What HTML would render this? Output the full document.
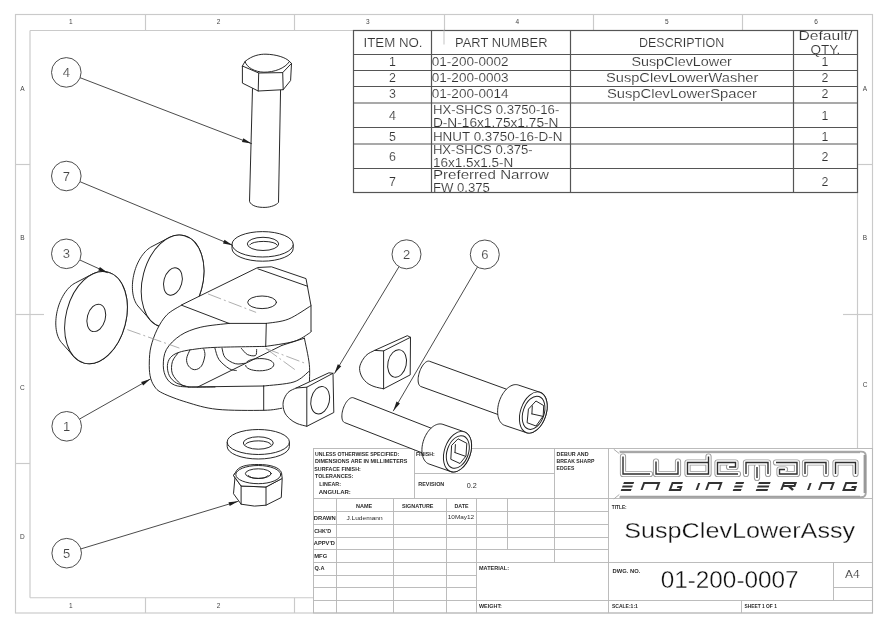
<!DOCTYPE html>
<html><head><meta charset="utf-8"><style>
html,body{margin:0;padding:0;background:#fff;}
svg{display:block;will-change:transform;}
text{font-family:"Liberation Sans",sans-serif;}
.k{fill:none;stroke:#1e1e1e;stroke-width:0.95;stroke-linejoin:round;stroke-linecap:round;}
.kl{fill:none;stroke:#2a2a2a;stroke-width:0.85;stroke-linecap:round;}
.kb{fill:#fff;stroke:#3a3a3a;stroke-width:0.9;}
.fk{fill:#1e1e1e;stroke:none;}
.fr{fill:none;stroke:#cacaca;stroke-width:1.15;}
.tb{stroke:#555;stroke-width:1.2;}
.tt{fill:none;stroke:#b8b8b8;stroke-width:0.95;}
.w{fill:#fff;stroke:none;}
.kw{fill:#fff;stroke:#1e1e1e;stroke-width:0.95;stroke-linejoin:round;}
.thin{stroke:#fff;stroke-width:0.15;}
.cl{fill:none;stroke:#9a9a9a;stroke-width:0.8;stroke-dasharray:14 3 2 3;}
</style></head><body>
<svg width="888" height="628" viewBox="0 0 888 628">
<rect class="fr" x="15.5" y="14.5" width="857" height="598.5"/>
<line class="fr" x1="30" y1="30.5" x2="857.5" y2="30.5"/>
<line class="fr" x1="30" y1="30.5" x2="30" y2="597.7"/>
<line class="fr" x1="30" y1="597.7" x2="313.5" y2="597.7"/>
<line class="fr" x1="857.5" y1="30.5" x2="857.5" y2="448.5"/>
<line class="fr" x1="145.5" y1="14.5" x2="145.5" y2="30.5"/>
<line class="fr" x1="294.5" y1="14.5" x2="294.5" y2="30.5"/>
<line class="fr" x1="444.5" y1="14.5" x2="444.5" y2="30.5"/>
<line class="fr" x1="593.5" y1="14.5" x2="593.5" y2="30.5"/>
<line class="fr" x1="742.5" y1="14.5" x2="742.5" y2="30.5"/>
<line class="fr" x1="145.5" y1="597.7" x2="145.5" y2="613"/>
<line class="fr" x1="294.5" y1="597.7" x2="294.5" y2="613"/>
<line class="fr" x1="15.5" y1="164.5" x2="30" y2="164.5"/>
<line class="fr" x1="15.5" y1="314.5" x2="30" y2="314.5"/>
<line class="fr" x1="15.5" y1="463.5" x2="30" y2="463.5"/>
<line class="fr" x1="30" y1="314.5" x2="44" y2="314.5"/>
<line class="fr" x1="857.5" y1="164.5" x2="872.5" y2="164.5"/>
<line class="fr" x1="857.5" y1="314.5" x2="872.5" y2="314.5"/>
<line class="fr" x1="843" y1="314.5" x2="857.5" y2="314.5"/>
<text x="70.7" y="23.9" font-size="6.5" fill="#444" text-anchor="middle">1</text>
<text x="218.5" y="23.9" font-size="6.5" fill="#444" text-anchor="middle">2</text>
<text x="367.7" y="23.9" font-size="6.5" fill="#444" text-anchor="middle">3</text>
<text x="517.3" y="23.9" font-size="6.5" fill="#444" text-anchor="middle">4</text>
<text x="666.8" y="23.9" font-size="6.5" fill="#444" text-anchor="middle">5</text>
<text x="816" y="23.9" font-size="6.5" fill="#444" text-anchor="middle">6</text>
<text x="70.7" y="607.7" font-size="6.5" fill="#444" text-anchor="middle">1</text>
<text x="218.5" y="607.7" font-size="6.5" fill="#444" text-anchor="middle">2</text>
<text x="22.3" y="90.9" font-size="6.5" fill="#444" text-anchor="middle">A</text>
<text x="22.3" y="240.4" font-size="6.5" fill="#444" text-anchor="middle">B</text>
<text x="22.3" y="389.9" font-size="6.5" fill="#444" text-anchor="middle">C</text>
<text x="22.3" y="538.9" font-size="6.5" fill="#444" text-anchor="middle">D</text>
<text x="865" y="90.9" font-size="6.5" fill="#444" text-anchor="middle">A</text>
<text x="865" y="240.4" font-size="6.5" fill="#444" text-anchor="middle">B</text>
<text x="865" y="387.4" font-size="6.5" fill="#444" text-anchor="middle">C</text>
<rect x="353.5" y="30.5" width="504" height="162.5" fill="#fff"/>
<text x="363.5" y="47" font-size="12.6" fill="#333" text-anchor="start" textLength="59" lengthAdjust="spacingAndGlyphs" class="thin">ITEM NO.</text>
<text x="455.1" y="47" font-size="12.6" fill="#333" text-anchor="start" textLength="92.4" lengthAdjust="spacingAndGlyphs" class="thin">PART NUMBER</text>
<text x="639" y="47" font-size="12.6" fill="#333" text-anchor="start" textLength="85.3" lengthAdjust="spacingAndGlyphs" class="thin">DESCRIPTION</text>
<text x="798.4" y="39.9" font-size="12" fill="#333" text-anchor="start" textLength="54.1" lengthAdjust="spacingAndGlyphs" class="thin">Default/</text>
<text x="810.6" y="53.8" font-size="12" fill="#333" text-anchor="start" textLength="29.8" lengthAdjust="spacingAndGlyphs" class="thin">QTY.</text>
<text x="392.5" y="66" font-size="12.4" fill="#333" text-anchor="middle" class="thin">1</text>
<text x="431.8" y="66" font-size="12.4" fill="#333" text-anchor="start" textLength="76.8" lengthAdjust="spacingAndGlyphs" class="thin">01-200-0002</text>
<text x="631.4" y="66" font-size="12.4" fill="#333" text-anchor="start" textLength="100.5" lengthAdjust="spacingAndGlyphs" class="thin">SuspClevLower</text>
<text x="825" y="66" font-size="12.4" fill="#333" text-anchor="middle" class="thin">1</text>
<text x="392.5" y="82.1" font-size="12.4" fill="#333" text-anchor="middle" class="thin">2</text>
<text x="431.8" y="82.1" font-size="12.4" fill="#333" text-anchor="start" textLength="76.8" lengthAdjust="spacingAndGlyphs" class="thin">01-200-0003</text>
<text x="606" y="82.1" font-size="12.4" fill="#333" text-anchor="start" textLength="152.4" lengthAdjust="spacingAndGlyphs" class="thin">SuspClevLowerWasher</text>
<text x="825" y="82.1" font-size="12.4" fill="#333" text-anchor="middle" class="thin">2</text>
<text x="392.5" y="98" font-size="12.4" fill="#333" text-anchor="middle" class="thin">3</text>
<text x="431.8" y="98" font-size="12.4" fill="#333" text-anchor="start" textLength="76.8" lengthAdjust="spacingAndGlyphs" class="thin">01-200-0014</text>
<text x="606.9" y="98" font-size="12.4" fill="#333" text-anchor="start" textLength="150" lengthAdjust="spacingAndGlyphs" class="thin">SuspClevLowerSpacer</text>
<text x="825" y="98" font-size="12.4" fill="#333" text-anchor="middle" class="thin">2</text>
<text x="392.5" y="120" font-size="12.4" fill="#333" text-anchor="middle" class="thin">4</text>
<text x="825" y="120" font-size="12.4" fill="#333" text-anchor="middle" class="thin">1</text>
<text x="432.9" y="113.5" font-size="12.4" fill="#333" text-anchor="start" textLength="126.4" lengthAdjust="spacingAndGlyphs" class="thin">HX-SHCS 0.3750-16-</text>
<text x="432.9" y="126.7" font-size="12.4" fill="#333" text-anchor="start" textLength="125.6" lengthAdjust="spacingAndGlyphs" class="thin">D-N-16x1.75x1.75-N</text>
<text x="392.5" y="140.5" font-size="12.4" fill="#333" text-anchor="middle" class="thin">5</text>
<text x="825" y="140.5" font-size="12.4" fill="#333" text-anchor="middle" class="thin">1</text>
<text x="432.9" y="141.4" font-size="12.4" fill="#333" text-anchor="start" textLength="129.5" lengthAdjust="spacingAndGlyphs" class="thin">HNUT 0.3750-16-D-N</text>
<text x="392.5" y="161" font-size="12.4" fill="#333" text-anchor="middle" class="thin">6</text>
<text x="825" y="161" font-size="12.4" fill="#333" text-anchor="middle" class="thin">2</text>
<text x="432.9" y="154.4" font-size="12.4" fill="#333" text-anchor="start" textLength="99.7" lengthAdjust="spacingAndGlyphs" class="thin">HX-SHCS 0.375-</text>
<text x="432.9" y="166.8" font-size="12.4" fill="#333" text-anchor="start" textLength="80.3" lengthAdjust="spacingAndGlyphs" class="thin">16x1.5x1.5-N</text>
<text x="392.5" y="185.5" font-size="12.4" fill="#333" text-anchor="middle" class="thin">7</text>
<text x="825" y="185.5" font-size="12.4" fill="#333" text-anchor="middle" class="thin">2</text>
<text x="432.9" y="179" font-size="12.4" fill="#333" text-anchor="start" textLength="116" lengthAdjust="spacingAndGlyphs" class="thin">Preferred Narrow</text>
<text x="432.9" y="192" font-size="12.4" fill="#333" text-anchor="start" textLength="57" lengthAdjust="spacingAndGlyphs" class="thin">FW 0.375</text>
<rect class="tb" x="353.5" y="30.5" width="504" height="162" fill="none"/>
<line x1="444" y1="30.5" x2="444" y2="44.5" stroke="#c8c8c8" stroke-width="1.1"/>
<line class="tb" x1="353.5" y1="54.5" x2="857.5" y2="54.5"/>
<line class="tb" x1="353.5" y1="70.5" x2="857.5" y2="70.5"/>
<line class="tb" x1="353.5" y1="86.5" x2="857.5" y2="86.5"/>
<line class="tb" x1="353.5" y1="103" x2="857.5" y2="103"/>
<line class="tb" x1="353.5" y1="127.5" x2="857.5" y2="127.5"/>
<line class="tb" x1="353.5" y1="144" x2="857.5" y2="144"/>
<line class="tb" x1="353.5" y1="168.5" x2="857.5" y2="168.5"/>
<line class="tb" x1="431.5" y1="30.5" x2="431.5" y2="192.5"/>
<line class="tb" x1="570.5" y1="30.5" x2="570.5" y2="192.5"/>
<line class="tb" x1="793.5" y1="30.5" x2="793.5" y2="192.5"/>
<rect class="tt" x="313.5" y="448.5" width="559" height="164.5" fill="#fff"/>
<line class="tt" x1="414.5" y1="448.5" x2="414.5" y2="498.5"/>
<line class="tt" x1="414.5" y1="473.5" x2="554.5" y2="473.5"/>
<line class="tt" x1="554.5" y1="448.5" x2="554.5" y2="562.5"/>
<line class="tt" x1="608.5" y1="448.5" x2="608.5" y2="613"/>
<line class="tt" x1="313.5" y1="498.5" x2="872.5" y2="498.5"/>
<line class="tt" x1="313.5" y1="511.5" x2="608.5" y2="511.5"/>
<line class="tt" x1="313.5" y1="524.5" x2="608.5" y2="524.5"/>
<line class="tt" x1="313.5" y1="537.5" x2="608.5" y2="537.5"/>
<line class="tt" x1="313.5" y1="549.5" x2="608.5" y2="549.5"/>
<line class="tt" x1="313.5" y1="562.5" x2="872.5" y2="562.5"/>
<line class="tt" x1="313.5" y1="575.5" x2="476.5" y2="575.5"/>
<line class="tt" x1="313.5" y1="587.5" x2="476.5" y2="587.5"/>
<line class="tt" x1="313.5" y1="600.5" x2="872.5" y2="600.5"/>
<line class="tt" x1="336.5" y1="498.5" x2="336.5" y2="613"/>
<line class="tt" x1="393.5" y1="498.5" x2="393.5" y2="613"/>
<line class="tt" x1="446.5" y1="498.5" x2="446.5" y2="613"/>
<line class="tt" x1="476.5" y1="498.5" x2="476.5" y2="613"/>
<line class="tt" x1="507.5" y1="498.5" x2="507.5" y2="549.5"/>
<line class="tt" x1="833.5" y1="562.5" x2="833.5" y2="600.5"/>
<line class="tt" x1="833.5" y1="587.5" x2="872.5" y2="587.5"/>
<line class="tt" x1="741.5" y1="600.5" x2="741.5" y2="613"/>
<text x="315" y="455.5" font-size="5.2" fill="#2a2a2a" text-anchor="start" textLength="84.2" lengthAdjust="spacingAndGlyphs" font-weight="bold">UNLESS OTHERWISE SPECIFIED:</text>
<text x="315" y="462.90000000000003" font-size="5.2" fill="#2a2a2a" text-anchor="start" textLength="92.3" lengthAdjust="spacingAndGlyphs" font-weight="bold">DIMENSIONS ARE IN MILLIMETERS</text>
<text x="314.3" y="470.6" font-size="5.2" fill="#2a2a2a" text-anchor="start" textLength="46.5" lengthAdjust="spacingAndGlyphs" font-weight="bold">SURFACE FINISH:</text>
<text x="315" y="478.0" font-size="5.2" fill="#2a2a2a" text-anchor="start" textLength="38.4" lengthAdjust="spacingAndGlyphs" font-weight="bold">TOLERANCES:</text>
<text x="319.3" y="485.8" font-size="5.2" fill="#2a2a2a" text-anchor="start" textLength="21.7" lengthAdjust="spacingAndGlyphs" font-weight="bold">LINEAR:</text>
<text x="318.7" y="493.6" font-size="5.2" fill="#2a2a2a" text-anchor="start" textLength="32.2" lengthAdjust="spacingAndGlyphs" font-weight="bold">ANGULAR:</text>
<text x="418.3" y="485.8" font-size="5.2" fill="#2a2a2a" text-anchor="start" textLength="26" lengthAdjust="spacingAndGlyphs" font-weight="bold">REVISION</text>
<text x="466.7" y="488" font-size="7" fill="#2a2a2a" text-anchor="start" textLength="10" lengthAdjust="spacingAndGlyphs">0.2</text>
<text x="556.6" y="455.5" font-size="5.2" fill="#2a2a2a" text-anchor="start" textLength="31.9" lengthAdjust="spacingAndGlyphs" font-weight="bold">DEBUR AND</text>
<text x="556.6" y="462.90000000000003" font-size="5.2" fill="#2a2a2a" text-anchor="start" textLength="37.8" lengthAdjust="spacingAndGlyphs" font-weight="bold">BREAK SHARP</text>
<text x="556.6" y="470.40000000000003" font-size="5.2" fill="#2a2a2a" text-anchor="start" textLength="17.7" lengthAdjust="spacingAndGlyphs" font-weight="bold">EDGES</text>
<text x="356" y="507.90000000000003" font-size="5.2" fill="#2a2a2a" text-anchor="start" textLength="16.2" lengthAdjust="spacingAndGlyphs" font-weight="bold">NAME</text>
<text x="401.9" y="507.90000000000003" font-size="5.2" fill="#2a2a2a" text-anchor="start" textLength="31.6" lengthAdjust="spacingAndGlyphs" font-weight="bold">SIGNATURE</text>
<text x="454.5" y="507.90000000000003" font-size="5.2" fill="#2a2a2a" text-anchor="start" textLength="14" lengthAdjust="spacingAndGlyphs" font-weight="bold">DATE</text>
<text x="313.8" y="519.8" font-size="5.2" fill="#2a2a2a" text-anchor="start" textLength="22" lengthAdjust="spacingAndGlyphs" font-weight="bold">DRAWN</text>
<text x="346.4" y="519.5" font-size="5.5" fill="#2a2a2a" text-anchor="start" textLength="36.3" lengthAdjust="spacingAndGlyphs">J.Ludemann</text>
<text x="447.8" y="518.5" font-size="5.5" fill="#2a2a2a" text-anchor="start" textLength="26.4" lengthAdjust="spacingAndGlyphs">10May12</text>
<text x="314.2" y="532.8" font-size="5.2" fill="#2a2a2a" text-anchor="start" textLength="16.9" lengthAdjust="spacingAndGlyphs" font-weight="bold">CHK'D</text>
<text x="313.8" y="545.0" font-size="5.2" fill="#2a2a2a" text-anchor="start" textLength="21.1" lengthAdjust="spacingAndGlyphs" font-weight="bold">APPV'D</text>
<text x="314.2" y="558.0999999999999" font-size="5.2" fill="#2a2a2a" text-anchor="start" textLength="13" lengthAdjust="spacingAndGlyphs" font-weight="bold">MFG</text>
<text x="314.5" y="570.0999999999999" font-size="5.2" fill="#2a2a2a" text-anchor="start" textLength="10" lengthAdjust="spacingAndGlyphs" font-weight="bold">Q.A</text>
<text x="479" y="569.8" font-size="5.2" fill="#2a2a2a" text-anchor="start" textLength="30" lengthAdjust="spacingAndGlyphs" font-weight="bold">MATERIAL:</text>
<text x="479" y="607.5999999999999" font-size="5.2" fill="#2a2a2a" text-anchor="start" textLength="22.9" lengthAdjust="spacingAndGlyphs" font-weight="bold">WEIGHT:</text>
<text x="611.8" y="509.2" font-size="5.2" fill="#2a2a2a" text-anchor="start" textLength="14.9" lengthAdjust="spacingAndGlyphs" font-weight="bold">TITLE:</text>
<text x="612.6" y="572.8" font-size="5.2" fill="#2a2a2a" text-anchor="start" textLength="27.7" lengthAdjust="spacingAndGlyphs" font-weight="bold">DWG. NO.</text>
<text x="611.9" y="607.5999999999999" font-size="5.2" fill="#2a2a2a" text-anchor="start" textLength="26" lengthAdjust="spacingAndGlyphs" font-weight="bold">SCALE:1:1</text>
<text x="744.4" y="607.5999999999999" font-size="5.2" fill="#2a2a2a" text-anchor="start" textLength="32.5" lengthAdjust="spacingAndGlyphs" font-weight="bold">SHEET 1 OF 1</text>
<text x="624.2" y="538.4" font-size="21.3" fill="#111" text-anchor="start" textLength="231" lengthAdjust="spacingAndGlyphs" stroke="#fff" stroke-width="0.3">SuspClevLowerAssy</text>
<text x="660.7" y="587.9" font-size="23.3" fill="#111" text-anchor="start" textLength="137.9" lengthAdjust="spacingAndGlyphs" stroke="#fff" stroke-width="0.35">01-200-0007</text>
<text x="845" y="577.8" font-size="11.5" fill="#333" text-anchor="start" textLength="14.6" lengthAdjust="spacingAndGlyphs" class="thin">A4</text>
<path class="kw" d="M252.5,88 L249.5,201.3 C251,206 258,207.6 265.1,207.4 C271,207.2 276.5,205 278.5,202.4 L280.6,88 Z"/>
<path class="kw" d="M242.4,66 L258.7,73 L282.7,72.6 L291.5,63.4 L290.6,80.5 L283.2,89.7 L258.2,91 L242.4,83.1 Z"/>
<line class="k" x1="258.7" y1="73" x2="258.2" y2="91"/>
<line class="k" x1="282.7" y1="72.6" x2="283.2" y2="89.7"/>
<path class="k" d="M242.4,66 L245,61.5 C252,55.5 260,54 266,54.2 C276,54.4 286,57.5 289.5,61.5 L291.5,63.4"/>
<path class="k" d="M245,61.5 C246.5,67.5 255,72 263.9,72.2 C274,72.3 285,68.5 289.5,61.5"/>
<path class="kw" d="M232,244.3 L232,248.5 A30.6,12.7 0 0 0 293.2,248.5 L293.2,244.3 Z"/>
<ellipse class="kw" cx="262.6" cy="244.3" rx="30.6" ry="12.7" transform="rotate(0 262.6 244.3)"/>
<ellipse class="kw" cx="263" cy="243.9" rx="15.7" ry="6.6" transform="rotate(0 263 243.9)"/>
<path class="k" d="M249.7,244.8 A13.8,3.8 0 0 1 277.2,245"/>
<path class="kw" d="M132.38,286.55 L132.45,284.32 L132.61,282.07 L132.86,279.79 L133.22,277.50 L133.66,275.22 L134.21,272.94 L134.84,270.69 L135.55,268.48 L136.35,266.30 L137.23,264.19 L138.18,262.14 L139.21,260.16 L140.30,258.27 L141.45,256.48 L142.65,254.79 L143.90,253.21 L145.19,251.75 L146.52,250.41 L147.88,249.21 L149.27,248.15 L150.67,247.23 L152.08,246.46 L168.27,238.04 L170.44,237.01 L172.63,236.20 L174.82,235.60 L176.99,235.23 L179.15,235.08 L181.27,235.16 L183.35,235.46 L185.37,235.99 L187.34,236.73 L189.23,237.69 L191.04,238.87 L192.77,240.25 L194.39,241.82 L195.91,243.60 L197.31,245.55 L198.60,247.68 L199.75,249.97 L200.78,252.41 L201.67,254.99 L202.41,257.71 L203.01,260.53 L203.47,263.46 L203.77,266.47 L203.92,269.55 L203.92,272.70 L203.76,275.88 L203.46,279.09 L203.00,282.31 L202.39,285.52 L201.64,288.71 L200.75,291.87 L199.72,294.97 L198.56,298.01 L197.28,300.96 L195.87,303.82 L194.35,306.57 L192.72,309.19 L191.00,311.68 L189.18,314.02 L187.29,316.20 L185.32,318.21 L183.29,320.04 L181.21,321.68 L179.09,323.12 L176.93,324.36 L174.76,325.39 L172.57,326.20 L170.38,326.80 L168.21,327.17 L166.05,327.32 L163.93,327.24 L161.85,326.94 L159.83,326.41 L157.86,325.67 L155.97,324.71 L154.16,323.53 L152.43,322.15 L150.81,320.58 L137.93,305.99 L137.00,304.77 L136.14,303.41 L135.36,301.93 L134.67,300.33 L134.06,298.62 L133.54,296.81 L133.12,294.90 L132.79,292.91 L132.56,290.85 L132.42,288.73 Z"/>
<ellipse class="kw" cx="172.6" cy="281.2" rx="30" ry="47" transform="rotate(14.5 172.6 281.2)"/>
<ellipse class="k" cx="172.9" cy="281.5" rx="9" ry="14" transform="rotate(15 172.9 281.5)"/>
<path class="kw" d="M55.78,322.95 L55.85,320.72 L56.01,318.47 L56.26,316.19 L56.62,313.90 L57.06,311.62 L57.61,309.34 L58.24,307.09 L58.95,304.88 L59.75,302.70 L60.63,300.59 L61.58,298.54 L62.61,296.56 L63.70,294.67 L64.85,292.88 L66.05,291.19 L67.30,289.61 L68.59,288.15 L69.92,286.81 L71.28,285.61 L72.67,284.55 L74.07,283.63 L75.48,282.86 L91.67,274.44 L93.84,273.41 L96.03,272.60 L98.22,272.00 L100.39,271.63 L102.55,271.48 L104.67,271.56 L106.75,271.86 L108.77,272.39 L110.74,273.13 L112.63,274.09 L114.44,275.27 L116.17,276.65 L117.79,278.22 L119.31,280.00 L120.71,281.95 L122.00,284.08 L123.15,286.37 L124.18,288.81 L125.07,291.39 L125.81,294.11 L126.41,296.93 L126.87,299.86 L127.17,302.87 L127.32,305.95 L127.32,309.10 L127.16,312.28 L126.86,315.49 L126.40,318.71 L125.79,321.92 L125.04,325.11 L124.15,328.27 L123.12,331.37 L121.96,334.41 L120.68,337.36 L119.27,340.22 L117.75,342.97 L116.12,345.59 L114.40,348.08 L112.58,350.42 L110.69,352.60 L108.72,354.61 L106.69,356.44 L104.61,358.08 L102.49,359.52 L100.33,360.76 L98.16,361.79 L95.97,362.60 L93.78,363.20 L91.61,363.57 L89.45,363.72 L87.33,363.64 L85.25,363.34 L83.23,362.81 L81.26,362.07 L79.37,361.11 L77.56,359.93 L75.83,358.55 L74.21,356.98 L61.33,342.39 L60.40,341.17 L59.54,339.81 L58.76,338.33 L58.07,336.73 L57.46,335.02 L56.94,333.21 L56.52,331.30 L56.19,329.31 L55.96,327.25 L55.82,325.13 Z"/>
<ellipse class="kw" cx="96" cy="317.6" rx="30" ry="47" transform="rotate(14.5 96 317.6)"/>
<ellipse class="k" cx="96.3" cy="317.90000000000003" rx="9" ry="14" transform="rotate(15 96.3 317.90000000000003)"/>
<path class="w" d="M181.80,305.00 C179.33,306.62 171.12,310.60 167.00,314.70 C162.88,318.80 159.78,324.23 157.10,329.60 C154.42,334.97 152.20,341.50 150.90,346.90 C149.60,352.30 149.43,357.18 149.30,362.00 C149.17,366.82 149.28,371.80 150.10,375.80 C150.92,379.80 152.17,383.13 154.20,386.00 C156.23,388.87 156.90,390.30 162.30,393.00 C167.70,395.70 177.48,399.48 186.60,402.20 C195.72,404.92 204.15,407.95 217.00,409.30 C229.85,410.65 252.88,410.48 263.70,410.30 C274.52,410.12 275.85,409.92 281.90,408.20 C287.95,406.48 295.42,403.87 300.00,400.00 C304.58,396.13 307.83,387.50 309.40,385.00 L311,305.7 L306,278.6 L257.8,267.5 Z"/>
<path class="k" d="M181.80,305.00 C179.33,306.62 171.12,310.60 167.00,314.70 C162.88,318.80 159.78,324.23 157.10,329.60 C154.42,334.97 152.20,341.50 150.90,346.90 C149.60,352.30 149.43,357.18 149.30,362.00 C149.17,366.82 149.28,371.80 150.10,375.80 C150.92,379.80 152.17,383.13 154.20,386.00 C156.23,388.87 156.90,390.30 162.30,393.00 C167.70,395.70 177.48,399.48 186.60,402.20 C195.72,404.92 204.15,407.95 217.00,409.30 C229.85,410.65 252.88,410.48 263.70,410.30 C274.52,410.12 278.87,408.55 281.90,408.20"/>
<path class="k" d="M181.8,304.8 L257.8,267.5 L271.4,266.8 L306,278.6 L311,305.7 L311,331"/>
<line class="k" x1="257.8" y1="268.8" x2="307.7" y2="286.3"/>
<line class="k" x1="181.8" y1="305.3" x2="229" y2="323.4"/>
<line class="k" x1="229" y1="323.4" x2="266.3" y2="323.4"/>
<path class="k" d="M266.30,323.40 C269.95,322.70 280.75,322.15 288.20,319.20 C295.65,316.25 307.20,307.95 311.00,305.70"/>
<ellipse class="k" cx="262.1" cy="302.3" rx="14.4" ry="6.3" transform="rotate(0 262.1 302.3)"/>
<line class="cl" x1="208" y1="293.9" x2="256.1" y2="312.4"/>
<line class="k" x1="266.3" y1="323.4" x2="265.7" y2="346.4"/>
<path class="k" d="M265.70,346.40 C270.42,345.57 286.73,343.60 294.00,341.40 C301.27,339.20 306.47,334.93 309.30,333.20 C312.13,331.47 310.72,331.37 311.00,331.00"/>
<path class="k" d="M229.00,323.40 C224.30,324.03 208.88,325.22 200.80,327.20 C192.72,329.18 186.23,331.58 180.50,335.30 C174.77,339.02 169.27,344.43 166.40,349.50 C163.53,354.57 163.30,360.98 163.30,365.70 C163.30,370.42 164.53,374.58 166.40,377.80 C168.27,381.02 170.78,383.47 174.50,385.00 C178.22,386.53 181.95,386.67 188.70,387.00 C195.45,387.33 210.62,387.00 215.00,387.00"/>
<line class="k" x1="188.7" y1="387" x2="263.7" y2="386"/>
<path class="k" d="M263.70,386.00 C268.75,385.32 286.40,384.40 294.00,381.90 C301.60,379.40 306.75,372.82 309.30,371.00"/>
<path class="k" d="M265.70,346.40 C257.25,346.57 227.17,346.88 215.00,347.40 C202.83,347.92 198.78,348.65 192.70,349.50 C186.62,350.35 182.22,351.15 178.50,352.50 C174.78,353.85 172.25,355.40 170.40,357.60 C168.55,359.80 167.57,362.67 167.40,365.70 C167.23,368.73 167.88,372.92 169.40,375.80 C170.92,378.68 173.28,381.13 176.50,383.00 C179.72,384.87 186.67,386.33 188.70,387.00"/>
<path class="k" d="M178.50,352.50 C177.48,354.02 173.42,358.05 172.40,361.60 C171.38,365.15 171.05,370.07 172.40,373.80 C173.75,377.53 178.23,381.88 180.50,384.00 C182.77,386.12 185.08,386.08 186.00,386.50"/>
<line class="k" x1="263.7" y1="386" x2="263.7" y2="410.3"/>
<line class="k" x1="197.8" y1="387" x2="281.9" y2="345.4"/>
<line class="k" x1="281.9" y1="345.4" x2="304.4" y2="338.2"/>
<path class="k" d="M304.40,338.20 C305.22,342.55 308.48,356.50 309.30,364.30 C310.12,372.10 309.30,381.55 309.30,385.00"/>
<path class="k" d="M190.00,349.80 C189.43,351.27 186.85,355.90 186.60,358.60 C186.35,361.30 187.15,364.15 188.50,366.00 C189.85,367.85 192.53,369.70 194.70,369.70 C196.87,369.70 199.80,368.37 201.50,366.00 C203.20,363.63 204.52,358.33 204.90,355.50 C205.28,352.67 203.98,350.08 203.80,349.00"/>
<path class="k" d="M246.7,362.0 C250,359 256,358.5 262,358.6 C270,359 274,362 273.8,364.7 C273.6,368 268,370.8 259.6,370.8 C251,370.8 245.5,368 245.6,365.5"/>
<path class="k" d="M215.00,348.40 C215.67,350.27 216.63,356.22 219.00,359.60 C221.37,362.98 226.32,366.88 229.20,368.70 C232.08,370.52 235.12,370.20 236.30,370.50"/>
<path class="k" d="M222.10,348.40 C222.60,349.93 222.90,355.05 225.10,357.60 C227.30,360.15 231.92,362.77 235.30,363.70 C238.68,364.63 243.72,363.28 245.40,363.20"/>
<path class="k" d="M241.40,348.40 C242.40,349.42 245.05,353.32 247.40,354.50 C249.75,355.68 253.97,356.33 255.50,355.50 C257.03,354.67 256.42,350.50 256.60,349.50"/>
<line class="cl" x1="265.7" y1="348.4" x2="306.2" y2="363.7"/>
<line class="cl" x1="265.7" y1="348.4" x2="295" y2="369.7"/>
<line class="cl" x1="127.3" y1="329.6" x2="179.4" y2="348.1"/>
<path class="kw" d="M296.20,388.00 L328.90,372.80 L333.00,373.30 L333.80,412.50 L306.80,426.30  C305.17,425.83 299.85,424.75 297.00,423.50 C294.15,422.25 291.78,420.72 289.70,418.80 C287.62,416.88 285.58,414.80 284.50,412.00 C283.42,409.20 282.62,405.25 283.20,402.00 C283.78,398.75 285.83,394.83 288.00,392.50 C290.17,390.17 294.83,388.75 296.20,388.00 Z"/>
<path class="k" d="M296.2,388.0 L306.8,387.2 L333,373.3"/>
<line class="k" x1="306.8" y1="387.2" x2="306.8" y2="426.3"/>
<ellipse class="k" cx="320.2" cy="400.2" rx="9.2" ry="13.9" transform="rotate(12 320.2 400.2)"/>
<path class="kw" d="M374.60,350.40 L407.30,335.70 L410.50,337.30 L410.20,374.90 L383.60,388.80  C382.00,388.42 376.87,387.58 374.00,386.50 C371.13,385.42 368.57,384.22 366.40,382.30 C364.23,380.38 362.08,377.73 361.00,375.00 C359.92,372.27 359.07,369.15 359.90,365.90 C360.73,362.65 363.55,358.08 366.00,355.50 C368.45,352.92 373.17,351.25 374.60,350.40 Z"/>
<path class="k" d="M374.6,350.4 L383.6,350.9 L410.5,337.3"/>
<line class="k" x1="383.6" y1="350.9" x2="383.6" y2="388.8"/>
<ellipse class="k" cx="397.1" cy="363.5" rx="9.2" ry="13.9" transform="rotate(12 397.1 363.5)"/>
<path class="kw" d="M418.11,379.80 L418.15,378.58 L418.28,377.31 L418.48,376.00 L418.75,374.67 L419.10,373.33 L419.51,372.00 L419.98,370.68 L420.52,369.41 L421.10,368.18 L421.72,367.01 L422.39,365.92 L423.09,364.92 L423.81,364.01 L424.54,363.22 L425.28,362.54 L426.02,361.98 L426.76,361.56 L427.47,361.27 L428.16,361.12 L428.82,361.11 L429.44,361.24 L515.74,392.54 L516.31,392.81 L516.83,393.21 L517.29,393.75 L517.68,394.41 L518.01,395.19 L518.27,396.08 L518.46,397.07 L518.56,398.14 L518.59,399.30 L518.55,400.52 L518.42,401.79 L518.22,403.10 L517.95,404.43 L517.60,405.77 L517.19,407.10 L516.72,408.42 L516.18,409.69 L515.60,410.92 L514.98,412.09 L514.31,413.18 L513.61,414.18 L512.89,415.09 L512.16,415.88 L511.42,416.56 L510.68,417.12 L509.94,417.54 L509.23,417.83 L508.54,417.98 L507.88,417.99 L507.26,417.86 L420.96,386.56 L420.39,386.29 L419.87,385.89 L419.41,385.35 L419.02,384.69 L418.69,383.91 L418.43,383.02 L418.24,382.03 L418.14,380.96 Z"/>
<path class="kw" d="M497.62,410.75 L497.70,409.18 L497.87,407.58 L498.12,405.97 L498.45,404.35 L498.87,402.74 L499.36,401.14 L499.93,399.57 L500.57,398.03 L501.27,396.54 L502.04,395.10 L502.87,393.72 L503.75,392.41 L504.68,391.18 L505.65,390.04 L506.66,388.99 L507.70,388.05 L508.76,387.20 L509.83,386.47 L510.92,385.86 L512.01,385.36 L513.10,384.98 L514.18,384.73 L515.24,384.61 L516.28,384.61 L517.29,384.74 L518.26,385.00 L540.06,392.30 L540.99,392.68 L541.87,393.18 L542.71,393.81 L543.48,394.54 L544.19,395.39 L544.83,396.35 L545.41,397.40 L545.90,398.55 L546.32,399.78 L546.66,401.09 L546.92,402.47 L547.09,403.91 L547.18,405.41 L547.18,406.95 L547.10,408.52 L546.93,410.12 L546.68,411.73 L546.35,413.35 L545.93,414.96 L545.44,416.56 L544.87,418.13 L544.23,419.67 L543.53,421.16 L542.76,422.60 L541.93,423.98 L541.05,425.29 L540.12,426.52 L539.15,427.66 L538.14,428.71 L537.10,429.65 L536.04,430.50 L534.97,431.23 L533.88,431.84 L532.79,432.34 L531.70,432.72 L530.62,432.97 L529.56,433.09 L528.52,433.09 L527.51,432.96 L526.54,432.70 L504.74,425.40 L503.81,425.02 L502.93,424.52 L502.09,423.89 L501.32,423.16 L500.61,422.31 L499.97,421.35 L499.39,420.30 L498.90,419.15 L498.48,417.92 L498.14,416.61 L497.88,415.23 L497.71,413.79 L497.62,412.29 Z"/>
<ellipse class="kw" cx="533.3" cy="412.5" rx="12.8" ry="21.3" transform="rotate(18.5 533.3 412.5)"/>
<ellipse class="k" cx="533.5999999999999" cy="412.8" rx="10.496" ry="17.116680000000002" transform="rotate(18.5 533.5999999999999 412.8)"/>
<path class="k" d="M536.3,401.2 L543.7,405.6 L543.2,416 L536,426 L527.1,422.7 L528.4,409.5 Z"/>
<line class="k" x1="532.3" y1="405.9" x2="531.9" y2="413.9"/>
<line class="k" x1="531.9" y1="413.9" x2="542.7" y2="416.3"/>
<path class="kw" d="M341.87,415.90 L341.93,414.70 L342.06,413.45 L342.27,412.16 L342.56,410.85 L342.91,409.54 L343.33,408.23 L343.82,406.94 L344.36,405.69 L344.95,404.49 L345.58,403.35 L346.26,402.28 L346.96,401.30 L347.68,400.42 L348.42,399.65 L349.17,398.99 L349.91,398.46 L350.65,398.05 L351.36,397.78 L352.05,397.64 L352.71,397.64 L353.32,397.78 L440.32,431.78 L440.89,432.06 L441.41,432.46 L441.86,433.00 L442.26,433.66 L442.58,434.43 L442.83,435.31 L443.01,436.29 L443.10,437.36 L443.13,438.50 L443.07,439.70 L442.94,440.95 L442.73,442.24 L442.44,443.55 L442.09,444.86 L441.67,446.17 L441.18,447.46 L440.64,448.71 L440.05,449.91 L439.42,451.05 L438.74,452.12 L438.04,453.10 L437.32,453.98 L436.58,454.75 L435.83,455.41 L435.09,455.94 L434.35,456.35 L433.64,456.62 L432.95,456.76 L432.29,456.76 L431.68,456.62 L344.68,422.62 L344.11,422.34 L343.59,421.94 L343.14,421.40 L342.74,420.74 L342.42,419.97 L342.17,419.09 L341.99,418.11 L341.90,417.04 Z"/>
<path class="kw" d="M421.92,450.92 L421.93,449.39 L422.01,447.84 L422.19,446.26 L422.45,444.67 L422.79,443.08 L423.22,441.49 L423.72,439.92 L424.30,438.38 L424.95,436.87 L425.67,435.41 L426.46,434.01 L427.30,432.66 L428.20,431.39 L429.14,430.19 L430.13,429.08 L431.15,428.07 L432.20,427.15 L433.28,426.34 L434.37,425.64 L435.47,425.06 L436.58,424.59 L437.68,424.24 L438.77,424.02 L439.85,423.92 L440.90,423.94 L441.92,424.09 L442.91,424.37 L464.41,431.87 L465.35,432.26 L466.24,432.78 L467.08,433.41 L467.86,434.16 L468.58,435.01 L469.23,435.97 L469.80,437.02 L470.30,438.17 L470.72,439.40 L471.06,440.70 L471.32,442.07 L471.49,443.50 L471.58,444.98 L471.57,446.51 L471.49,448.06 L471.31,449.64 L471.05,451.23 L470.71,452.82 L470.28,454.41 L469.78,455.98 L469.20,457.52 L468.55,459.03 L467.83,460.49 L467.04,461.89 L466.20,463.24 L465.30,464.51 L464.36,465.71 L463.37,466.82 L462.35,467.83 L461.30,468.75 L460.22,469.56 L459.13,470.26 L458.03,470.84 L456.92,471.31 L455.82,471.66 L454.73,471.88 L453.65,471.98 L452.60,471.96 L451.58,471.81 L450.59,471.53 L429.09,464.03 L428.15,463.64 L427.26,463.12 L426.42,462.49 L425.64,461.74 L424.92,460.89 L424.27,459.93 L423.70,458.88 L423.20,457.73 L422.78,456.50 L422.44,455.20 L422.18,453.83 L422.01,452.40 Z"/>
<ellipse class="kw" cx="457.5" cy="451.7" rx="13" ry="21" transform="rotate(19.2 457.5 451.7)"/>
<ellipse class="k" cx="457.8" cy="452.0" rx="10.66" ry="16.8756" transform="rotate(19.2 457.8 452.0)"/>
<path class="k" d="M458.4,439 L466.8,443.3 L466,456 L460,463.5 L450.8,459.3 L451.6,445.8 Z"/>
<line class="k" x1="455.4" y1="444.6" x2="455" y2="452.6"/>
<line class="k" x1="455" y1="452.6" x2="465.5" y2="456.3"/>
<path class="kw" d="M227.2,442 L227.2,446.5 A31.1,12.5 0 0 0 289.4,446.5 L289.4,442 Z"/>
<ellipse class="kw" cx="258.3" cy="442" rx="31.1" ry="12.5" transform="rotate(0 258.3 442)"/>
<ellipse class="kw" cx="258.3" cy="443" rx="15" ry="6.2" transform="rotate(0 258.3 443)"/>
<path class="k" d="M245.5,444.2 A12.8,3.8 0 0 1 271,444.5"/>
<path class="kw" d="M235.4,472.7 L233.5,475.5 L241.1,486 L266,487 L282.2,478.4 L281.3,497.5 L266,505.2 L254.5,506.1 L241.1,504.2 L233.5,493.7 Z"/>
<path class="kw" d="M235.4,472.7 C238,466 247,464.5 258.3,464.5 C270,464.5 279,467 281.5,472.5 L282.2,478.4 L266,487 L241.1,486 L233.5,475.5 Z"/>
<line class="k" x1="241.1" y1="486" x2="241.1" y2="504.2"/>
<line class="k" x1="266" y1="487" x2="266" y2="505.2"/>
<ellipse class="k" cx="258.3" cy="474.6" rx="22.5" ry="9.1" transform="rotate(0 258.3 474.6)"/>
<ellipse class="k" cx="258.3" cy="473.6" rx="12.9" ry="4.8" transform="rotate(0 258.3 473.6)"/>
<path class="k" d="M248.5,475.5 A10,3.8 0 0 0 268,475.5"/>
<line class="kl" x1="80.11" y1="77.71" x2="251.5" y2="143.6"/>
<path class="fk" d="M251.5,143.6 L241.92,142.06 L243.35,138.32 Z"/>
<circle class="kb" cx="66.3" cy="72.4" r="14.8"/>
<text x="66.3" y="77.0" font-size="13" fill="#444" text-anchor="middle" class="thin">4</text>
<line class="kl" x1="79.96" y1="181.69" x2="232.5" y2="245.2"/>
<path class="fk" d="M232.5,245.2 L222.96,243.39 L224.50,239.70 Z"/>
<circle class="kb" cx="66.3" cy="176" r="14.8"/>
<text x="66.3" y="180.6" font-size="13" fill="#444" text-anchor="middle" class="thin">7</text>
<line class="kl" x1="79.76" y1="259.95" x2="107.7" y2="272.7"/>
<path class="fk" d="M107.7,272.7 L98.23,270.58 L99.89,266.94 Z"/>
<circle class="kb" cx="66.3" cy="253.8" r="14.8"/>
<text x="66.3" y="258.40000000000003" font-size="13" fill="#444" text-anchor="middle" class="thin">3</text>
<line class="kl" x1="79.58" y1="419.02" x2="150.4" y2="379"/>
<path class="fk" d="M150.4,379 L143.11,385.41 L141.15,381.93 Z"/>
<circle class="kb" cx="66.7" cy="426.3" r="14.8"/>
<text x="66.7" y="430.90000000000003" font-size="13" fill="#444" text-anchor="middle" class="thin">1</text>
<line class="kl" x1="80.87" y1="548.91" x2="238.2" y2="501.3"/>
<path class="fk" d="M238.2,501.3 L229.69,505.97 L228.53,502.14 Z"/>
<circle class="kb" cx="66.7" cy="553.2" r="14.8"/>
<text x="66.7" y="557.8000000000001" font-size="13" fill="#444" text-anchor="middle" class="thin">5</text>
<line class="kl" x1="399.0" y1="266.71" x2="334.6" y2="373.3"/>
<path class="fk" d="M334.6,373.3 L337.80,364.13 L341.22,366.20 Z"/>
<circle class="kb" cx="406.5" cy="254.3" r="14.5"/>
<text x="406.5" y="258.90000000000003" font-size="13" fill="#444" text-anchor="middle" class="thin">2</text>
<line class="kl" x1="477.48" y1="267.02" x2="393.4" y2="410.8"/>
<path class="fk" d="M393.4,410.8 L396.47,401.59 L399.92,403.61 Z"/>
<circle class="kb" cx="484.8" cy="254.5" r="14.5"/>
<text x="484.8" y="259.1" font-size="13" fill="#444" text-anchor="middle" class="thin">6</text>
<text x="415.9" y="455.5" font-size="5.2" fill="#2a2a2a" text-anchor="start" textLength="18.9" lengthAdjust="spacingAndGlyphs" font-weight="bold">FINISH:</text>
<path d="M619.5,451.6 L861,451.6 Q865.8,451.6 865.8,456 L865.8,492.5 Q865.8,497.3 861,497.3 L619.5,497.3" fill="none" stroke="#a8a8a8" stroke-width="1.9"/>
<path d="M620,452.7 L860,452.7 M620,496.2 L860,496.2" fill="none" stroke="#777" stroke-width="0.6"/>
<path d="M864.8,455 L864.8,493" fill="none" stroke="#999" stroke-width="2.4"/>
<path d="M613.8,449.3 L619.3,453.6 M613.8,499 L619.3,494.5" fill="none" stroke="#aaa" stroke-width="1"/>
<path d="M623,456.5 V474 H650" fill="none" stroke="#9a9a9a" stroke-width="6.2" stroke-linejoin="round" stroke-linecap="round"/>
<path d="M656,461.5 V474 H678 V461.5" fill="none" stroke="#9a9a9a" stroke-width="6.2" stroke-linejoin="round" stroke-linecap="round"/>
<path d="M708.5,456.5 V474 H687.5 V462.5 H708.5" fill="none" stroke="#9a9a9a" stroke-width="6.2" stroke-linejoin="round" stroke-linecap="round"/>
<path d="M738,474 H717.5 V462.5 H735.5 V467 H729" fill="none" stroke="#9a9a9a" stroke-width="6.2" stroke-linejoin="round" stroke-linecap="round"/>
<path d="M746,474 V462.5 H768 V474 M757,467 V478" fill="none" stroke="#9a9a9a" stroke-width="6.2" stroke-linejoin="round" stroke-linecap="round"/>
<path d="M776,462.5 H797 V474 H779.5 V469.5 H785" fill="none" stroke="#9a9a9a" stroke-width="6.2" stroke-linejoin="round" stroke-linecap="round"/>
<path d="M805,474 V462.5 H826 V474" fill="none" stroke="#9a9a9a" stroke-width="6.2" stroke-linejoin="round" stroke-linecap="round"/>
<path d="M835.5,474 V462.5 H855.5 V474" fill="none" stroke="#9a9a9a" stroke-width="6.2" stroke-linejoin="round" stroke-linecap="round"/>
<path d="M623,456.5 V474 H650" fill="none" stroke="#fff" stroke-width="4.3" stroke-linejoin="round" stroke-linecap="round"/>
<path d="M656,461.5 V474 H678 V461.5" fill="none" stroke="#fff" stroke-width="4.3" stroke-linejoin="round" stroke-linecap="round"/>
<path d="M708.5,456.5 V474 H687.5 V462.5 H708.5" fill="none" stroke="#fff" stroke-width="4.3" stroke-linejoin="round" stroke-linecap="round"/>
<path d="M738,474 H717.5 V462.5 H735.5 V467 H729" fill="none" stroke="#fff" stroke-width="4.3" stroke-linejoin="round" stroke-linecap="round"/>
<path d="M746,474 V462.5 H768 V474 M757,467 V478" fill="none" stroke="#fff" stroke-width="4.3" stroke-linejoin="round" stroke-linecap="round"/>
<path d="M776,462.5 H797 V474 H779.5 V469.5 H785" fill="none" stroke="#fff" stroke-width="4.3" stroke-linejoin="round" stroke-linecap="round"/>
<path d="M805,474 V462.5 H826 V474" fill="none" stroke="#fff" stroke-width="4.3" stroke-linejoin="round" stroke-linecap="round"/>
<path d="M835.5,474 V462.5 H855.5 V474" fill="none" stroke="#fff" stroke-width="4.3" stroke-linejoin="round" stroke-linecap="round"/>
<path d="M623,456.5 V474 H650" fill="none" stroke="#2e2e2e" stroke-width="1.4" stroke-linejoin="miter"/>
<path d="M656,461.5 V474 H678 V461.5" fill="none" stroke="#2e2e2e" stroke-width="1.4" stroke-linejoin="miter"/>
<path d="M708.5,456.5 V474 H687.5 V462.5 H708.5" fill="none" stroke="#2e2e2e" stroke-width="1.4" stroke-linejoin="miter"/>
<path d="M738,474 H717.5 V462.5 H735.5 V467 H729" fill="none" stroke="#2e2e2e" stroke-width="1.4" stroke-linejoin="miter"/>
<path d="M746,474 V462.5 H768 V474 M757,467 V478" fill="none" stroke="#2e2e2e" stroke-width="1.4" stroke-linejoin="miter"/>
<path d="M776,462.5 H797 V474 H779.5 V469.5 H785" fill="none" stroke="#2e2e2e" stroke-width="1.4" stroke-linejoin="miter"/>
<path d="M805,474 V462.5 H826 V474" fill="none" stroke="#2e2e2e" stroke-width="1.4" stroke-linejoin="miter"/>
<path d="M835.5,474 V462.5 H855.5 V474" fill="none" stroke="#2e2e2e" stroke-width="1.4" stroke-linejoin="miter"/>
<path d="M622.3,483 h10.200000000000045 M622.3,486.5 h10.200000000000045 M622.3,490 h10.200000000000045" fill="none" stroke="#333" stroke-width="2.1" transform="translate(177.09,0) skewX(-20)"/>
<path d="M642.8,490 v-7 h14.900000000000091 v7" fill="none" stroke="#333" stroke-width="2.1" transform="translate(177.09,0) skewX(-20)"/>
<path d="M681.3,483 h-10.099999999999909 v7 h10.099999999999909 v-3 h-4" fill="none" stroke="#333" stroke-width="2.1" transform="translate(177.09,0) skewX(-20)"/>
<path d="M697.9,483 v7" fill="none" stroke="#333" stroke-width="2.1" transform="translate(177.09,0) skewX(-20)"/>
<path d="M707.5,490 v-7 h12.399999999999977 v7" fill="none" stroke="#333" stroke-width="2.1" transform="translate(177.09,0) skewX(-20)"/>
<path d="M734.3,483 h8.200000000000045 M734.3,486.5 h8.200000000000045 M734.3,490 h8.200000000000045" fill="none" stroke="#333" stroke-width="2.1" transform="translate(177.09,0) skewX(-20)"/>
<path d="M757.3,483 h11.700000000000045 M757.3,486.5 h11.700000000000045 M757.3,490 h11.700000000000045" fill="none" stroke="#333" stroke-width="2.1" transform="translate(177.09,0) skewX(-20)"/>
<path d="M782.6,490 v-7 h11.699999999999932 v3 h-11.699999999999932 M788.45,486 l5.849999999999966,4" fill="none" stroke="#333" stroke-width="2.1" transform="translate(177.09,0) skewX(-20)"/>
<path d="M809.3,483 v7" fill="none" stroke="#333" stroke-width="2.1" transform="translate(177.09,0) skewX(-20)"/>
<path d="M820.4,490 v-7 h11.700000000000045 v7" fill="none" stroke="#333" stroke-width="2.1" transform="translate(177.09,0) skewX(-20)"/>
<path d="M855.7,483 h-10.900000000000091 v7 h10.900000000000091 v-3 h-4" fill="none" stroke="#333" stroke-width="2.1" transform="translate(177.09,0) skewX(-20)"/>
</svg>
</body></html>
